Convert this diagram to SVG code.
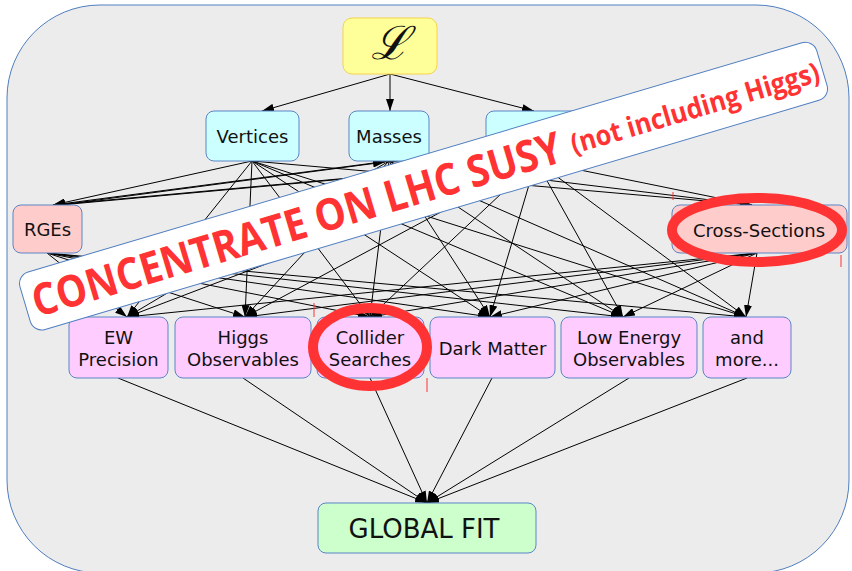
<svg xmlns="http://www.w3.org/2000/svg" width="852" height="571" viewBox="0 0 852 571">
  <defs>
    <marker id="arrow" markerWidth="12" markerHeight="8" refX="12" refY="4" orient="auto" markerUnits="userSpaceOnUse">
      <path d="M0,0 L12,4 L0,8 z" fill="#000"/>
    </marker>
    <style>
      .frame { fill: #ececec; stroke: #4f7ec0; stroke-width: 1; }
      .node rect { stroke: #5b85c5; stroke-width: 1; }
      .top rect { fill: #ccffff; }
      .mid rect { fill: #ffcccc; }
      .obs rect { fill: #ffccff; }
      .lbl { font-family: "DejaVu Sans", "Open Sans", sans-serif; font-size: 18px; fill: #111; text-anchor: middle; }
      .edges line { stroke: #000; stroke-width: 1; }
      .edges .a { marker-end: url(#arrow); }
      .banner-text { font-family: "Open Sans", "DejaVu Sans", sans-serif; font-weight: bold; fill: #ff3333; }
      .ring { fill: none; stroke: #ff3333; stroke-width: 10; }
      .tick { stroke: #ff3333; stroke-width: 1; }
    </style>
  </defs>

  <!-- outer panel -->
  <rect class="frame" x="7" y="5" width="842" height="568" rx="93" ry="93"/>

  <!-- connectors -->
  <g id="connectors" class="edges">
    <!-- Lagrangian to first layer -->
    <line class="a" x1="390" y1="74" x2="262" y2="111"/>
    <line class="a" x1="390" y1="74" x2="390" y2="111"/>
    <line class="a" x1="390" y1="74" x2="534" y2="111"/>

    <!-- Vertices -->
    <line class="a" x1="252" y1="161" x2="53" y2="205"/>
    <line class="a" x1="252" y1="161" x2="752" y2="205"/>
    <line class="a" x1="252" y1="161" x2="127" y2="317"/>
    <line class="a" x1="252" y1="161" x2="245" y2="317"/>
    <line class="a" x1="252" y1="161" x2="370" y2="317"/>
    <line class="a" x1="252" y1="161" x2="490" y2="317"/>
    <line class="a" x1="252" y1="161" x2="623" y2="317"/>
    <line class="a" x1="252" y1="161" x2="746" y2="317"/>

    <!-- Masses -->
    <line class="a" x1="389" y1="161" x2="53" y2="205"/>
    <line class="a" x1="389" y1="161" x2="752" y2="205"/>
    <line class="a" x1="389" y1="161" x2="127" y2="317"/>
    <line class="a" x1="389" y1="161" x2="245" y2="317"/>
    <line class="a" x1="389" y1="161" x2="370" y2="317"/>
    <line class="a" x1="389" y1="161" x2="490" y2="317"/>
    <line class="a" x1="389" y1="161" x2="623" y2="317"/>
    <line class="a" x1="389" y1="161" x2="746" y2="317"/>

    <!-- Couplings -->
    <line class="a" x1="536" y1="161" x2="53" y2="205"/>
    <line class="a" x1="536" y1="161" x2="752" y2="205"/>
    <line class="a" x1="536" y1="161" x2="127" y2="317"/>
    <line class="a" x1="536" y1="161" x2="245" y2="317"/>
    <line class="a" x1="536" y1="161" x2="370" y2="317"/>
    <line class="a" x1="536" y1="161" x2="490" y2="317"/>
    <line class="a" x1="536" y1="161" x2="623" y2="317"/>
    <line class="a" x1="536" y1="161" x2="746" y2="317"/>

    <!-- RGEs feed back into masses and couplings -->
    <line class="a" x1="60" y1="205" x2="385" y2="162"/>
    <line class="a" x1="60" y1="205" x2="530" y2="162"/>

    <!-- RGEs to observables -->
    <line class="a" x1="47" y1="253" x2="127" y2="317"/>
    <line class="a" x1="47" y1="253" x2="245" y2="317"/>
    <line class="a" x1="47" y1="253" x2="370" y2="317"/>
    <line class="a" x1="47" y1="253" x2="490" y2="317"/>
    <line class="a" x1="47" y1="253" x2="623" y2="317"/>
    <line class="a" x1="47" y1="253" x2="746" y2="317"/>

    <!-- Cross-Sections to observables -->
    <line class="a" x1="757" y1="253" x2="127" y2="317"/>
    <line class="a" x1="757" y1="253" x2="245" y2="317"/>
    <line class="a" x1="757" y1="253" x2="370" y2="317"/>
    <line class="a" x1="757" y1="253" x2="490" y2="317"/>
    <line class="a" x1="757" y1="253" x2="623" y2="317"/>
    <line class="a" x1="757" y1="253" x2="746" y2="317"/>

    <!-- observables to the global fit -->
    <line class="a" x1="118" y1="378" x2="427" y2="503"/>
    <line class="a" x1="243" y1="378" x2="427" y2="503"/>
    <line class="a" x1="370" y1="378" x2="427" y2="503"/>
    <line class="a" x1="492" y1="378" x2="427" y2="503"/>
    <line class="a" x1="629" y1="378" x2="427" y2="503"/>
    <line class="a" x1="747" y1="378" x2="427" y2="503"/>
  </g>

  <!-- nodes -->
  <g id="lagrangian" class="node">
    <rect x="343" y="18" width="94" height="56" rx="9" style="fill:#ffff99;stroke:#f5d34a"/>
    <text x="390" y="59" style="font-family:'DejaVu Serif',serif;font-style:italic;font-size:46px;text-anchor:middle;fill:#111">ℒ</text>
  </g>
  <g id="vertices" class="node top">
    <rect x="206" y="111" width="93" height="50" rx="8"/>
    <text class="lbl" x="252.5" y="143">Vertices</text>
  </g>
  <g id="masses" class="node top">
    <rect x="349" y="111" width="80" height="50" rx="8"/>
    <text class="lbl" x="389" y="143">Masses</text>
  </g>
  <g id="couplings" class="node top">
    <rect x="486" y="111" width="100" height="50" rx="8"/>
  </g>
  <g id="rges" class="node mid">
    <rect x="13" y="205" width="69" height="48" rx="8"/>
    <text class="lbl" x="47.5" y="236">RGEs</text>
  </g>
  <g id="cross-sections" class="node mid">
    <rect x="672" y="205" width="175" height="48" rx="8"/>
    <text class="lbl" x="759" y="237">Cross-Sections</text>
  </g>
  <g id="ew-precision" class="node obs">
    <rect x="69" y="317" width="99" height="61" rx="8"/>
    <text class="lbl" x="118.5" y="344">EW<tspan x="118.5" dy="22">Precision</tspan></text>
  </g>
  <g id="higgs-observables" class="node obs">
    <rect x="175" y="317" width="136" height="61" rx="8"/>
    <text class="lbl" x="243" y="344">Higgs<tspan x="243" dy="22">Observables</tspan></text>
  </g>
  <g id="collider-searches" class="node obs">
    <rect x="317" y="317" width="107" height="61" rx="8"/>
    <text class="lbl" x="370" y="344">Collider<tspan x="370" dy="22">Searches</tspan></text>
  </g>
  <g id="dark-matter" class="node obs">
    <rect x="430" y="317" width="125" height="61" rx="8"/>
    <text class="lbl" x="492.5" y="355">Dark Matter</text>
  </g>
  <g id="low-energy" class="node obs">
    <rect x="561" y="317" width="136" height="61" rx="8"/>
    <text class="lbl" x="629" y="344">Low Energy<tspan x="629" dy="22">Observables</tspan></text>
  </g>
  <g id="and-more" class="node obs">
    <rect x="703" y="317" width="88" height="61" rx="8"/>
    <text class="lbl" x="747" y="344">and<tspan x="747" dy="22">more...</tspan></text>
  </g>
  <g id="global-fit" class="node">
    <rect x="318" y="503" width="218" height="50" rx="8" style="fill:#ccffcc"/>
    <text x="424" y="538" textLength="151" lengthAdjust="spacingAndGlyphs" style="font-family:'DejaVu Sans',sans-serif;font-size:26px;text-anchor:middle;fill:#111">GLOBAL FIT</text>
  </g>

  <!-- overlay banner -->
  <g id="banner" transform="translate(424,186) rotate(-16.5)">
    <rect x="-416" y="-30" width="831" height="60" rx="12" style="fill:#fff;stroke:#4f7ec0;stroke-width:1"/>
    <text class="banner-text" x="-408" y="16" font-size="44" textLength="550" lengthAdjust="spacingAndGlyphs">CONCENTRATE ON LHC SUSY</text>
    <text class="banner-text" x="153" y="12" font-size="28" textLength="258" lengthAdjust="spacingAndGlyphs">(not including Higgs)</text>
  </g>

  <!-- highlight rings -->
  <ellipse class="ring" cx="757" cy="230" rx="85" ry="32"/>
  <ellipse class="ring" cx="370" cy="347" rx="57" ry="39"/>
  <line class="tick" x1="314" y1="303" x2="314" y2="317"/>
  <line class="tick" x1="427" y1="378" x2="427" y2="392"/>
  <line class="tick" x1="673" y1="192" x2="673" y2="200"/>
  <line class="tick" x1="841" y1="255" x2="841" y2="267"/>
</svg>
